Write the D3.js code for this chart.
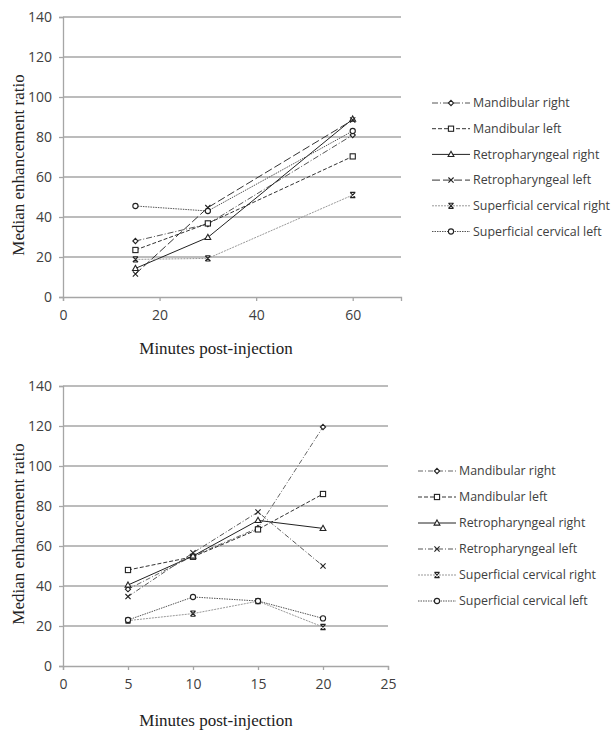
<!DOCTYPE html>
<html><head><meta charset="utf-8">
<script src="https://cdn.jsdelivr.net/npm/d3@7"></script>
<style>body{margin:0;background:#fff}svg{display:block}</style>
</head><body>
<script>
const seriesNames = ["Mandibular right","Mandibular left","Retropharyngeal right","Retropharyngeal left","Superficial cervical right","Superficial cervical left"];
const xTop = [15, 30, 60];
const top_mandibularRight = [28, 36.5, 81];
const top_mandibularLeft = [23.5, 36.8, 70.3];
const top_retroRight = [14.3, 29.8, 89];
const top_retroLeft = [11.5, 44.7, 88.5];
const top_supRight = [18.8, 19.3, 51];
const top_supLeft = [45.5, 43, 83];
const xBottom = [5, 10, 15, 20];
const bot_mandibularRight = [38.4, 55, 69, 119.5];
const bot_mandibularLeft = [48, 54.6, 68.3, 86];
const bot_retroRight = [40.5, 55, 72.8, 68.8];
const bot_retroLeft = [34.7, 56.6, 77, 50];
const bot_supRight = [22.7, 26.2, 32.4, 19.5];
const bot_supLeft = [23, 34.5, 32.5, 23.8];
const yTicks = [0,20,40,60,80,100,120,140];
const xTicksTop = [0,20,40,60];
const xTicksBottom = [0,5,10,15,20,25];
const xTitle = "Minutes post-injection";
const yTitle = "Median enhancement ratio";

const W = 615, H = 730;
const svg = d3.select("body").append("svg").attr("width", W).attr("height", H);

const markerShapes = ["diamond","square","triangle","x","star","circle"];
const stylesTop = [
  {dash:"6,2,1,2", color:"#555"},
  {dash:"4,2", color:"#333"},
  {dash:null, color:"#222"},
  {dash:"8,3", color:"#333"},
  {dash:"2,1", color:"#999"},
  {dash:"1.5,1", color:"#555"}
];
const stylesBottom = [
  {dash:"5,2,1,2", color:"#666"},
  {dash:"4,2", color:"#333"},
  {dash:null, color:"#222"},
  {dash:"5,2,1,2", color:"#555"},
  {dash:"2,1", color:"#999"},
  {dash:"1.5,1", color:"#555"}
];

function marker(g, shape, x, y, color) {
  const s = 2.6;
  let el;
  if (shape === "diamond") el = g.append("path").attr("d", `M${x},${y-s} L${x+s},${y} L${x},${y+s} L${x-s},${y} Z`).attr("fill","#fff");
  else if (shape === "square") el = g.append("rect").attr("x", x-s).attr("y", y-s).attr("width", 2*s).attr("height", 2*s).attr("fill","#fff");
  else if (shape === "triangle") el = g.append("path").attr("d", `M${x},${y-s-0.5} L${x+s+0.3},${y+s-0.5} L${x-s-0.3},${y+s-0.5} Z`).attr("fill","#fff");
  else if (shape === "x") el = g.append("path").attr("d", `M${x-s},${y-s} L${x+s},${y+s} M${x+s},${y-s} L${x-s},${y+s}`).attr("fill","none");
  else if (shape === "star") el = g.append("path").attr("d", `M${x-s},${y-s} L${x+s},${y+s} M${x+s},${y-s} L${x-s},${y+s} M${x-s},${y-s} L${x+s},${y-s} M${x-s},${y+s} L${x+s},${y+s}`).attr("fill","none");
  else el = g.append("circle").attr("cx", x).attr("cy", y).attr("r", s).attr("fill","#fff");
  el.attr("stroke", "#222").attr("stroke-width", 1.1);
}

function panel(cfg) {
  const {xs, ys, xVals, series, xTicks, styles, legendX, legendY, legendStep, sampleLen, titleY} = cfg;
  const g = svg.append("g");
  g.selectAll("line.grid").data(yTicks.filter(d => d > 0)).enter().append("line")
    .attr("x1", xs.range()[0]).attr("x2", xs.range()[1])
    .attr("y1", d => ys(d)).attr("y2", d => ys(d))
    .attr("stroke", "#a6a6a6").attr("stroke-width", 1.3);
  const yAxis = d3.axisLeft(ys).tickValues(yTicks).tickSize(4).tickPadding(7);
  const ya = g.append("g").attr("transform", `translate(${xs.range()[0]},0)`).call(yAxis);
  const xAxis = d3.axisBottom(xs).tickValues(xTicks).tickSize(4).tickPadding(6);
  const xa = g.append("g").attr("transform", `translate(0,${ys(0)})`).call(xAxis);
  [ya, xa].forEach(a => {
    a.select(".domain").attr("stroke", "#a6a6a6").attr("stroke-width", 1.3);
    a.selectAll(".tick line").attr("stroke", "#a6a6a6").attr("stroke-width", 1.3);
    a.selectAll(".tick text").attr("fill", "#404040").style("font-family", "'Open Sans'").style("font-size", "14px");
  });
  xa.selectAll(".tick text").attr("dy", "0.9em");
  const line = d3.line().x(d => xs(d[0])).y(d => ys(d[1]));
  series.forEach((vals, i) => {
    const pts = xVals.map((x, j) => [x, vals[j]]);
    g.append("path").datum(pts).attr("d", line).attr("fill", "none")
      .attr("stroke", styles[i].color).attr("stroke-width", 1)
      .attr("stroke-dasharray", styles[i].dash);
  });
  series.forEach((vals, i) => {
    xVals.forEach((x, j) => marker(g, markerShapes[i], xs(x), ys(vals[j]), styles[i].color));
  });
  seriesNames.forEach((name, i) => {
    const y = legendY + i * legendStep;
    g.append("line").attr("x1", legendX).attr("x2", legendX + sampleLen).attr("y1", y).attr("y2", y)
      .attr("stroke", styles[i].color).attr("stroke-width", 1).attr("stroke-dasharray", styles[i].dash);
    marker(g, markerShapes[i], legendX + sampleLen / 2, y, styles[i].color);
    g.append("text").attr("x", legendX + sampleLen + 3).attr("y", y).attr("dy", "0.35em")
      .attr("fill", "#404040").style("font-family", "'Open Sans'").style("font-size", "12.4px").text(name);
  });
  g.append("text").attr("x", 216).attr("y", titleY).attr("text-anchor", "middle")
    .style("font-family", "'Liberation Serif'").style("font-size", "17px").attr("fill", "#222").text(xTitle);
  const yc = (ys(0) + ys(140)) / 2 + 8;
  g.append("text").attr("transform", `translate(24,${yc}) rotate(-90)`).attr("text-anchor", "middle")
    .style("font-family", "'Liberation Serif'").style("font-size", "17px").attr("fill", "#222").text(yTitle);
}

panel({
  xs: d3.scaleLinear().domain([0, 70]).range([63, 401]),
  ys: d3.scaleLinear().domain([0, 140]).range([297, 17]),
  xVals: xTop,
  series: [top_mandibularRight, top_mandibularLeft, top_retroRight, top_retroLeft, top_supRight, top_supLeft],
  xTicks: xTicksTop, styles: stylesTop,
  legendX: 432, legendY: 103, legendStep: 25.7, sampleLen: 38, titleY: 354
});
panel({
  xs: d3.scaleLinear().domain([0, 25]).range([63, 388]),
  ys: d3.scaleLinear().domain([0, 140]).range([666, 386]),
  xVals: xBottom,
  series: [bot_mandibularRight, bot_mandibularLeft, bot_retroRight, bot_retroLeft, bot_supRight, bot_supLeft],
  xTicks: xTicksBottom, styles: stylesBottom,
  legendX: 418, legendY: 471, legendStep: 26, sampleLen: 38, titleY: 726
});
</script>
</body></html>
